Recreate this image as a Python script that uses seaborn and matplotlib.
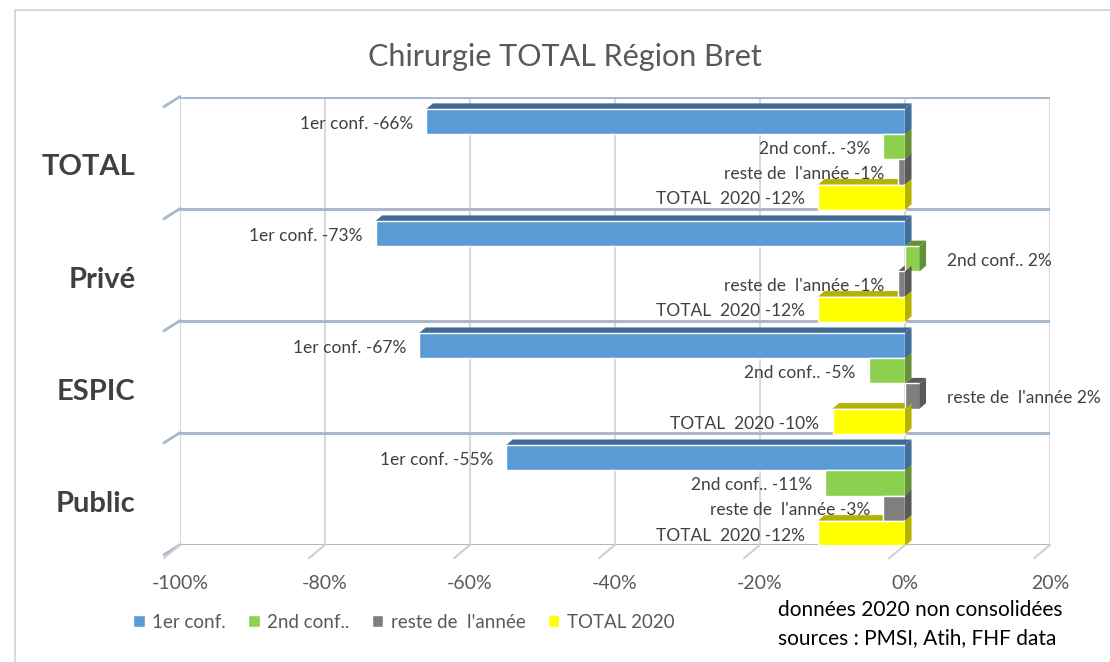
import numpy as np
import pandas as pd
import seaborn as sns
import matplotlib.pyplot as plt
from matplotlib.patches import Polygon, Rectangle
from matplotlib.colors import to_rgb

# data
groups = ["TOTAL", "Privé", "ESPIC", "Public"]
series = ["1er conf.", "2nd conf..", "reste de  l'année", "TOTAL 2020"]
label_names = ["1er conf.", "2nd conf..", "reste de  l'année", "TOTAL  2020"]
v_1er = [-66, -73, -67, -55]
v_2nd = [-3, 2, -5, -11]
v_reste = [-1, -1, 2, -3]
v_total = [-12, -12, -10, -12]
x_ticks = [-100, -80, -60, -40, -20, 0, 20]
colors = ["#5B9BD5", "#8DCF4F", "#7F7F7F", "#FFFF00"]

all_vals = [v_1er, v_2nd, v_reste, v_total]
rows = []
for s, vals in zip(series, all_vals):
    for g, v in zip(groups, vals):
        rows.append({"groupe": g, "serie": s, "val": v})
df = pd.DataFrame(rows)

sns.set_theme(style="white")
plt.rcParams["font.family"] = ["Lato", "DejaVu Sans"]

fig = plt.figure(figsize=(11.1, 6.62), dpi=100)
ax = fig.add_axes([0.162, 0.177, 0.784, 0.677])
sns.barplot(data=df, y="groupe", x="val", hue="serie", orient="h",
            palette=colors, saturation=1, width=0.9, order=groups, hue_order=series,
            errorbar=None, ax=ax, zorder=3)
handles, labels = ax.get_legend_handles_labels()
ax.get_legend().remove()

# groups sit a little low inside their floor band
shift = 0.06
ax.set_xlim(-100, 20)
ax.set_ylim(3.5 - shift, -0.5 - shift)

# fake 3D depth on bars
dx, dy = 0.9, 0.05
for i, cont in enumerate(ax.containers):
    dark = tuple(c * 0.7 for c in to_rgb(colors[i]))
    for bar in cont:
        x0, w = bar.get_x(), bar.get_width()
        xl, xr = min(x0, x0 + w), max(x0, x0 + w)
        yt, h = bar.get_y(), bar.get_height()
        top = Polygon([(xl, yt), (xr, yt), (xr + dx, yt - dy), (xl + dx, yt - dy)],
                      closed=True, fc=dark, ec="none", zorder=2.9)
        side = Polygon([(xr, yt), (xr, yt + h), (xr + dx, yt + h - dy), (xr + dx, yt - dy)],
                       closed=True, fc=dark, ec="none", zorder=3.1)
        ax.add_patch(top)
        ax.add_patch(side)

# floor lines between groups
for b in np.arange(len(groups) + 1) - 0.5 - shift:
    ax.axhline(b, color="#A9B7CF", lw=2.2, zorder=1)
    ax.plot([-100, -102.2], [b, b + 0.09], color="#A9B7CF", lw=2, clip_on=False, zorder=1)
for t in x_ticks:
    ax.plot([t, t - 2.2], [3.5 - shift, 3.62 - shift], color="#D0D0D0", lw=1.5, clip_on=False)

ax.set_xticks(x_ticks)
ax.set_xticklabels([f"{t}%" for t in x_ticks], fontsize=14, color="#595959")
ax.grid(axis="x", color="#D9D9D9", lw=1.5, zorder=0)
ax.grid(axis="y", visible=False)
ax.tick_params(axis="x", length=0, pad=22)
ax.set_yticks(np.arange(len(groups)) + 0.05)
ax.set_yticklabels(groups, fontsize=21, fontweight="bold", color="#404040")
ax.tick_params(axis="y", length=0, pad=32)
ax.set_xlabel("")
ax.set_ylabel("")
sns.despine(ax=ax, left=True, bottom=True)

# bar labels
for i, cont in enumerate(ax.containers):
    for j, bar in enumerate(cont):
        v = all_vals[i][j]
        yc = bar.get_y() + bar.get_height() / 2
        txt = f"{label_names[i]} {v}%"
        if v < 0:
            ax.text(v - 1.8, yc + 0.02, txt, ha="right", va="center", fontsize=12.5, color="#404040", zorder=5)
        else:
            ax.text(v + 3.8, yc + 0.02, txt, ha="left", va="center", fontsize=12.5, color="#404040", zorder=5)

fig.text(0.509, 0.914, "Chirurgie TOTAL Région Bret", ha="center", va="center",
         fontsize=22, color="#595959")

leg = fig.legend(handles, labels, loc="center left", bbox_to_anchor=(0.105, 0.06), ncol=4,
                 frameon=False, fontsize=13.5, handlelength=0.6, handleheight=0.6,
                 handletextpad=0.4, columnspacing=1.2)
for t in leg.get_texts():
    t.set_color("#595959")

fig.text(0.701, 0.079, "données 2020 non consolidées", ha="left", va="center", fontsize=15, color="black")
fig.text(0.701, 0.036, "sources : PMSI, Atih, FHF data", ha="left", va="center", fontsize=15, color="black")

fig.patches.append(Rectangle((15 / 1110, -0.05), 1.1, 1.035, transform=fig.transFigure,
                             fill=False, ec="#D0D0D0", lw=1.2))

fig.savefig("out.png", dpi=100)
